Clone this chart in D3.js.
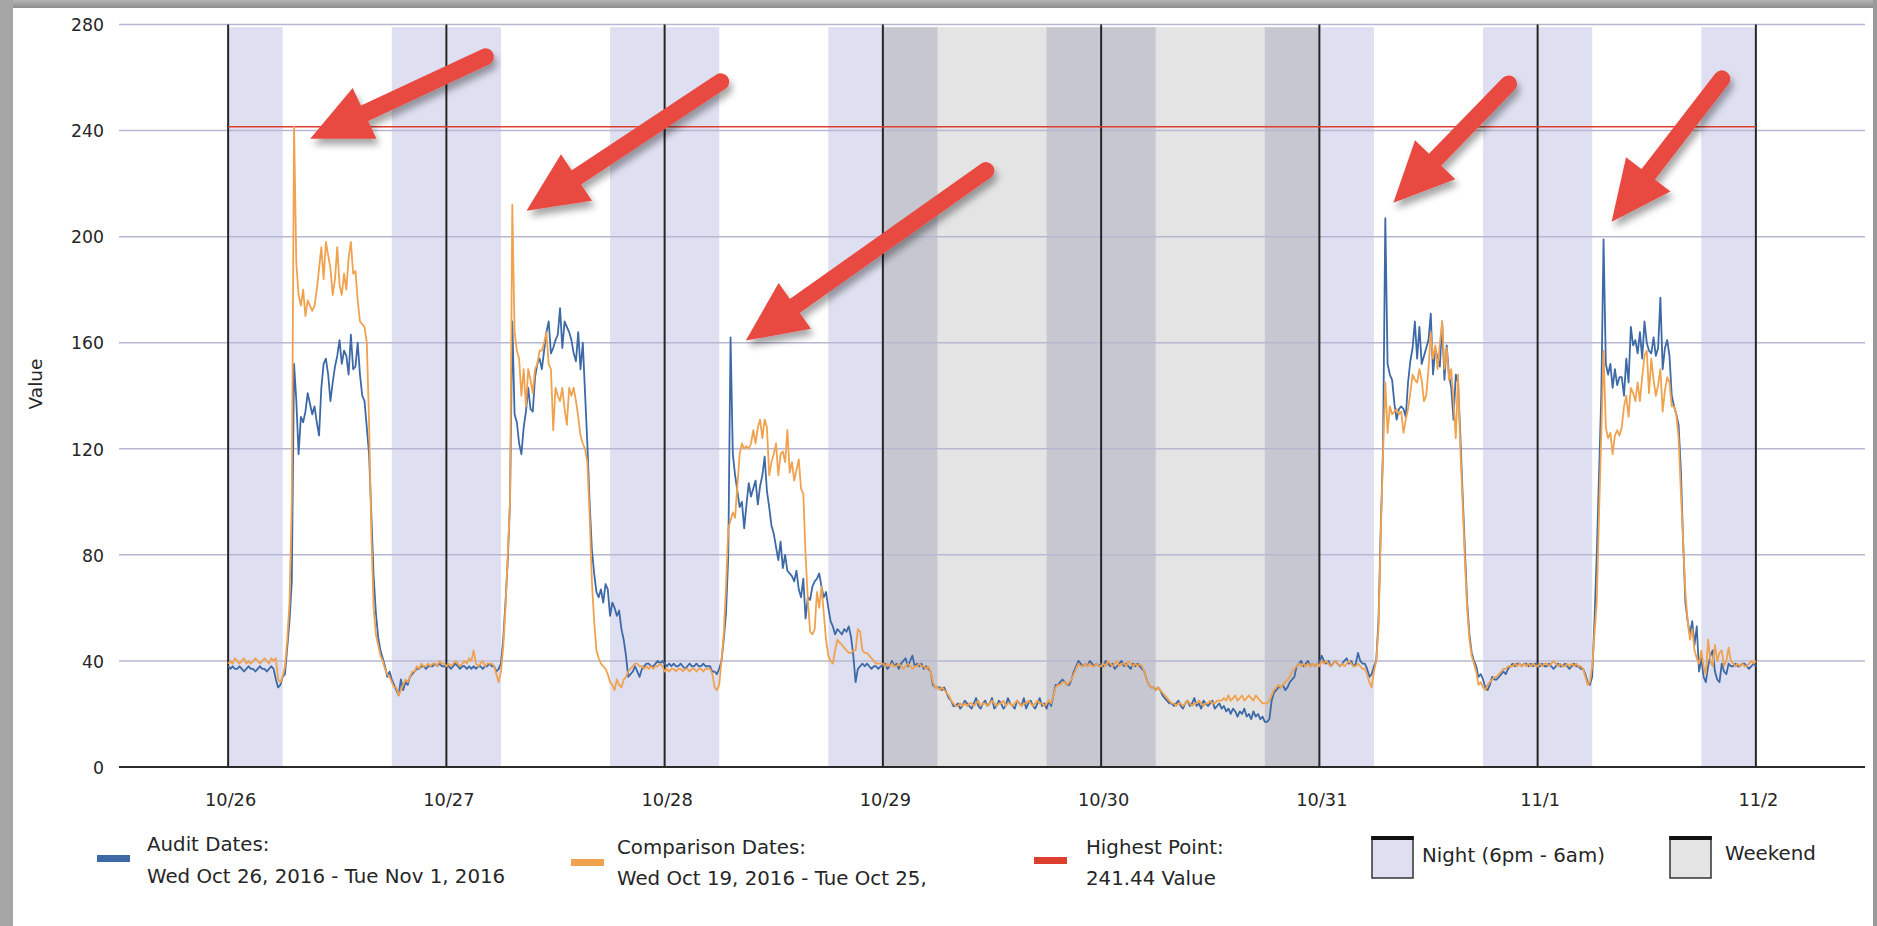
<!DOCTYPE html>
<html><head><meta charset="utf-8">
<script src="https://cdn.jsdelivr.net/npm/d3@7"></script>
<style>
body{margin:0;background:#fff}
svg{display:block}
text{font-family:"DejaVu Sans",sans-serif;fill:#262626}
</style>
</head><body>
<svg id="chart" width="1877" height="926"></svg>
<script>
// ---------------- DATA ----------------
const dayKeys   = ["2016-10-26","2016-10-27","2016-10-28","2016-10-29","2016-10-30","2016-10-31","2016-11-01"];
const xTickDays = ["2016-10-26","2016-10-27","2016-10-28","2016-10-29","2016-10-30","2016-10-31","2016-11-01","2016-11-02"];
const xTickLabels = ["10/26","10/27","10/28","10/29","10/30","10/31","11/1","11/2"];
const yTicks = [0,40,80,120,160,200,240,280];
const weekendDays = ["2016-10-29","2016-10-30"];
const highestPoint = 241.44;
const stepMinutes = 15;

// Audit series (15-minute readings, from 00:00 of each day)
const audit_1026 = [38,37,38,37,37,38,37,36,37,38,37,37,36,37,38,37,37,36,37,38,
 37,33,30,31,34,35,45,55,70,
 152,138,118,132,130,134,141,137,133,136,130,
 125,143,152,154,148,138,145,151,155,161,
 152,157,155,148,163,150,151,160,148,140,
 138,128,118,95,72,58,49,44,41,38,
 34,36,33,31,29,27,33,29,32,31,
 34,35,36,37,37,38,38,37,38,38,
 38,39,38,39,38,38];
const audit_1027 = [38,38,37,38,39,38,37,38,38,37,38,37,38,37,38,38,37,38,38,39,
 38,38,36,37,39,48,62,78,100,
 168,133,130,122,118,128,134,143,135,134,147,
 152,154,150,157,164,168,156,158,161,163,
 173,158,168,166,164,161,156,153,164,150,
 160,141,122,100,82,73,66,64,67,62,
 69,67,57,62,60,57,59,52,48,42,
 34,35,36,38,36,34,37,38,39,39,
 38,38,39,40,39,40];
const audit_1028 = [39,38,39,38,39,38,38,39,38,37,38,39,38,38,39,38,38,39,38,38,
 38,36,36,35,37,40,48,58,80,
 162,118,110,104,98,100,90,99,107,102,105,
 108,99,106,110,117,104,98,91,88,83,
 78,85,75,80,74,73,72,70,74,67,
 64,71,56,64,63,68,70,71,73,68,
 64,66,60,55,53,50,52,51,50,52,
 51,53,49,42,32,37,38,39,38,39,
 38,37,38,38,37,38];
const audit_1029 = [38,39,37,38,40,38,39,37,39,40,41,38,40,42,38,39,38,39,37,38,37,
 36,31,30,30,30,29,30,28,26,25,23,
 23,24,22,23,25,24,23,22,24,26,23,22,24,25,23,24,26,22,23,25,24,22,23,26,24,23,22,25,24,23,26,22,24,25,23,22,24,26,23,24,22,25,23,
 27,31,31,32,33,32,31,31,33,36,38,40,39,38,39,38,40,39,38,39,38];
const audit_1030 = [39,38,40,39,38,39,37,38,39,40,38,39,38,37,39,38,39,38,37,
 36,33,31,30,30,29,30,29,27,26,25,24,24,
 23,24,25,23,22,24,25,23,24,26,23,24,22,25,24,23,24,25,22,23,24,
 22,23,21,22,20,22,21,19,21,20,22,19,20,18,21,19,20,18,19,17,17,18,
 25,28,29,30,30,31,29,30,32,33,34,38,39,40,38,39,40,38,39,38,39];
const audit_1031 = [39,42,40,39,40,38,39,40,39,38,39,40,41,39,40,38,39,43,40,39,
 39,37,34,35,38,40,55,90,120,
 207,152,148,146,137,131,135,136,135,132,145,
 153,158,168,154,166,152,155,158,161,171,
 148,158,154,151,168,146,159,148,143,131,
 148,145,125,103,82,62,50,43,40,38,
 34,35,33,30,29,31,34,33,33,34,
 35,36,35,37,38,39,38,39,39,38,
 39,39,38,39,38,39];
// last value is 11/2 00:00
const audit_1101 = [39,38,39,38,38,39,38,37,38,39,38,38,39,38,37,38,39,38,38,37,
 37,35,32,31,34,55,80,110,140,
 199,152,148,152,143,150,144,147,147,140,154,
 145,166,159,161,156,164,154,168,160,157,
 156,162,155,158,177,150,158,161,155,140,
 136,133,129,112,85,62,55,50,55,46,
 53,36,41,34,32,38,42,44,36,33,
 32,39,36,35,39,38,38,39,38,38,
 39,39,38,37,38,39,38];

// Comparison series (15-minute readings, from 00:00 of each day)
const comp_1026 = [39,40,39,41,40,39,40,41,39,40,39,40,41,40,39,40,41,40,39,41,
 40,41,33,32,34,38,48,62,100,
 241.44,190,178,174,180,170,176,174,172,174,180,
 188,196,184,198,193,188,178,184,196,182,
 178,186,180,192,198,186,187,176,168,167,
 166,160,130,88,60,50,46,42,40,37,
 35,34,32,30,30,27,29,31,33,32,
 34,36,36,38,37,39,38,38,39,38,
 39,39,38,40,39,39];
const comp_1027 = [38,39,38,39,40,39,38,39,40,39,41,40,44,39,38,39,40,38,39,39,
 39,38,35,32,36,45,60,80,100,
 212,164,157,154,140,150,136,150,146,141,150,
 152,157,157,160,164,152,150,127,143,140,
 138,143,135,129,143,140,143,138,132,125,
 122,120,115,95,70,55,44,41,39,38,
 37,35,32,31,29,33,31,30,33,34,
 36,37,38,39,39,38,38,37,38,37,
 38,37,38,38,39,38];
const comp_1028 = [36,37,36,37,37,36,37,37,36,37,37,36,37,37,36,37,37,36,37,37,
 37,35,30,29,31,40,50,68,90,
 93,96,94,106,118,122,120,121,120,122,127,
 122,128,131,124,131,128,110,115,118,122,
 110,118,119,115,127,111,115,108,112,116,
 105,103,80,63,51,50,52,66,60,68,
 58,48,42,40,39,44,48,47,46,45,
 44,43,43,44,44,52,51,44,43,43,
 42,41,40,39,39,39];
const comp_1029 = [39,38,39,38,39,38,38,39,38,37,38,39,38,37,38,38,39,38,38,37,38,
 36,32,30,30,29,30,29,28,27,25,24,
 23,23,24,23,24,23,24,24,23,24,25,23,24,24,23,24,25,24,23,24,24,25,23,24,24,23,24,25,24,23,24,24,25,24,23,24,25,24,24,23,24,25,24,
 27,30,31,31,32,32,31,32,33,35,37,39,38,38,39,38,39,38,38,39,38];
const comp_1030 = [38,39,38,40,39,38,39,40,38,39,39,38,40,39,38,39,38,39,38,
 36,33,31,30,30,29,30,29,28,27,26,25,24,
 24,23,24,24,23,24,25,24,23,24,24,25,24,23,24,24,25,24,24,25,25,
 25,26,25,27,25,26,27,25,26,27,25,26,27,26,25,27,26,25,24,24,24,25,
 27,29,30,31,30,31,32,33,34,36,37,38,39,38,39,38,39,38,39,38,39];
const comp_1031 = [38,40,39,40,39,38,39,40,39,38,39,38,39,40,39,38,38,39,38,37,
 37,35,32,30,36,40,52,88,118,
 145,126,136,133,134,135,133,134,126,131,135,
 141,148,146,145,150,146,138,140,150,164,
 154,159,150,160,168,150,158,146,150,138,
 124,148,120,100,78,60,48,42,39,36,
 31,32,30,29,31,32,33,34,34,35,
 36,37,37,38,38,38,39,38,39,38,
 39,38,39,38,39,38];
// last value is 11/2 00:00
const comp_1101 = [38,39,38,39,39,38,39,40,39,38,39,38,38,39,38,39,38,39,38,38,
 37,34,31,32,38,50,62,95,125,
 157,128,124,126,118,125,127,125,128,136,140,
 132,143,141,138,145,138,147,155,157,141,
 154,146,140,144,150,134,142,147,145,136,
 136,133,124,104,85,66,55,48,52,44,
 41,39,44,38,35,48,40,38,46,40,
 43,44,38,40,45,40,39,38,39,38,
 39,38,38,39,40,39,40];

const auditDays = [audit_1026,audit_1027,audit_1028,audit_1029,audit_1030,audit_1031,audit_1101];
const compDays  = [comp_1026,comp_1027,comp_1028,comp_1029,comp_1030,comp_1031,comp_1101];

// Annotation arrows: [day offset from 10/26, value] for tip and tail
const arrowTips  = [[0.376,236.9],[1.367,209.8],[2.372,160.8],[5.339,212.8],[6.339,205.6]];
const arrowTails = [[1.179,267.8],[2.257,258.4],[3.472,224.9],[5.867,257.6],[6.844,259.5]];

// ---------------- CHART ----------------
const parse = s => new Date(s + "T00:00:00Z");
const DAY = 86400000;
const t0 = parse("2016-10-26");

function buildSeries(days){
  const out = [];
  days.forEach((arr,k)=>{
    const start = parse(dayKeys[k]).getTime();
    arr.forEach((v,i)=> out.push({t:new Date(start + i*stepMinutes*60000), v}));
  });
  return out;
}
const auditSeries = buildSeries(auditDays);
const compSeries  = buildSeries(compDays);

const svg = d3.select("#chart");
const X0 = 119, X1 = 1865, Y0 = 767, Y1 = 24.5;
const x = d3.scaleUtc().domain([new Date(t0.getTime()-DAY/2), new Date(parse("2016-11-02").getTime()+DAY/2)]).range([X0,X1]);
const y = d3.scaleLinear().domain([0,280]).range([Y0,Y1]);

const C = {night:"#dedff0", weekend:"#e4e4e4", weekendNight:"#c7c7d1", grid:"#b7b7d1",
  dayLine:"#262626", audit:"#3d69a6", comp:"#f0a24f", red:"#dd3f2f", arrow:"#e84a40"};

svg.append("rect").attr("x",0).attr("y",0).attr("width",1877).attr("height",926).attr("fill","#fff");

// bands
const bands = svg.append("g");
weekendDays.forEach(d=>{
  const s = parse(d);
  bands.append("rect").attr("x",x(s)).attr("width",x(new Date(s.getTime()+DAY))-x(s))
    .attr("y",y(279)).attr("height",y(0)-y(279)).attr("fill",C.weekend);
});
dayKeys.forEach(d=>{
  const s = parse(d).getTime();
  const wk = weekendDays.includes(d);
  [[0,0.25],[0.75,1]].forEach(([a,b])=>{
    bands.append("rect").attr("x",x(new Date(s+a*DAY))).attr("width",x(new Date(s+b*DAY))-x(new Date(s+a*DAY)))
      .attr("y",y(279)).attr("height",y(0)-y(279)).attr("fill",wk?C.weekendNight:C.night);
  });
});

// horizontal gridlines
svg.append("g").selectAll("line").data(yTicks.filter(v=>v>0)).join("line")
  .attr("x1",X0).attr("x2",X1).attr("y1",d=>y(d)).attr("y2",d=>y(d))
  .attr("stroke",C.grid).attr("stroke-width",1.5);

// y axis labels
const yAxis = d3.axisLeft(y).tickValues(yTicks).tickSize(0).tickPadding(0);
const ya = svg.append("g").attr("transform","translate(104,0)").call(yAxis);
ya.select(".domain").remove();
ya.selectAll("text").attr("font-family","DejaVu Sans").attr("font-size",17.3).attr("fill","#222").attr("dy","0.36em");

// day lines
svg.append("g").selectAll("line").data(xTickDays.map(parse)).join("line")
  .attr("x1",d=>x(d)).attr("x2",d=>x(d)).attr("y1",y(280)).attr("y2",Y0)
  .attr("stroke",C.dayLine).attr("stroke-width",2);

// highest point line
svg.append("line").attr("x1",x(t0)).attr("x2",x(parse("2016-11-02")))
  .attr("y1",y(highestPoint)).attr("y2",y(highestPoint)).attr("stroke",C.red).attr("stroke-width",1.6);

// series
const line = d3.line().x(d=>x(d.t)).y(d=>y(d.v));
svg.append("path").datum(auditSeries).attr("d",line).attr("fill","none").attr("stroke",C.audit).attr("stroke-width",1.8).attr("stroke-linejoin","round");
svg.append("path").datum(compSeries).attr("d",line).attr("fill","none").attr("stroke",C.comp).attr("stroke-width",1.8).attr("stroke-linejoin","round");

// x axis
const xAxis = d3.axisBottom(x).tickValues(xTickDays.map(parse)).tickFormat((d,i)=>xTickLabels[i]).tickSize(0).tickPadding(0);
const xa = svg.append("g").attr("transform",`translate(0,${Y0})`).call(xAxis);
xa.select(".domain").remove();
xa.selectAll("text").attr("font-family","DejaVu Sans").attr("font-size",17.8).attr("fill","#222").attr("dy","0").attr("y",39).attr("dx",2);
svg.append("line").attr("x1",X0).attr("x2",X1).attr("y1",Y0).attr("y2",Y0).attr("stroke","#2a2a2a").attr("stroke-width",2.2);

// y title
svg.append("text").attr("transform","translate(42,384) rotate(-90)").attr("text-anchor","middle")
  .attr("font-size",18.5).attr("fill","#222").text("Value");

// arrows
const defs = svg.append("defs");
const f = defs.append("filter").attr("id","sh").attr("x","-30%").attr("y","-30%").attr("width","160%").attr("height","160%");
f.append("feDropShadow").attr("dx",3).attr("dy",6).attr("stdDeviation",3.5).attr("flood-color","#000").attr("flood-opacity",0.35);
const ag = svg.append("g").attr("filter","url(#sh)");
arrowTips.forEach((tp,k)=>{
  const tl = arrowTails[k];
  const tx = x(new Date(t0.getTime()+tp[0]*DAY)), ty = y(tp[1]);
  const sx = x(new Date(t0.getTime()+tl[0]*DAY)), sy = y(tl[1]);
  const dx = tx-sx, dy = ty-sy, L = Math.hypot(dx,dy), ux = dx/L, uy = dy/L, px = -uy, py = ux;
  const HL = 60, HW = 28, SW = 17;
  const bx = tx - ux*HL, by = ty - uy*HL;
  ag.append("line").attr("x1",sx).attr("y1",sy).attr("x2",bx+ux*4).attr("y2",by+uy*4)
    .attr("stroke",C.arrow).attr("stroke-width",SW).attr("stroke-linecap","round");
  ag.append("path").attr("d",`M${tx},${ty}L${bx+px*HW},${by+py*HW}L${bx-px*HW},${by-py*HW}Z`).attr("fill",C.arrow);
});

// legend
const lg = svg.append("g").attr("font-size",19.8);
const lineItems = [
  {c:C.audit, sx:97, sy:855, tx:147, l1:"Audit Dates:", l2:"Wed Oct 26, 2016 - Tue Nov 1, 2016", y1:844, y2:876},
  {c:C.comp,  sx:571, sy:859, tx:617, l1:"Comparison Dates:", l2:"Wed Oct 19, 2016 - Tue Oct 25,", y1:847, y2:878},
  {c:C.red,   sx:1034, sy:857, tx:1086, l1:"Highest Point:", l2:"241.44 Value", y1:847, y2:878}
];
lineItems.forEach(it=>{
  lg.append("rect").attr("x",it.sx).attr("y",it.sy).attr("width",33).attr("height",7).attr("fill",it.c);
  lg.append("text").attr("x",it.tx).attr("y",it.y1).attr("dy","0.36em").attr("fill","#222").text(it.l1);
  lg.append("text").attr("x",it.tx).attr("y",it.y2).attr("dy","0.36em").attr("fill","#222").text(it.l2);
});
const boxItems = [
  {c:C.night, bx:1372, tx:1422, l:"Night (6pm - 6am)", ty:855},
  {c:C.weekend, bx:1670, tx:1725, l:"Weekend", ty:853}
];
boxItems.forEach(it=>{
  lg.append("rect").attr("x",it.bx).attr("y",837).attr("width",41).attr("height",41).attr("fill",it.c).attr("stroke","#333").attr("stroke-width",1.5);
  lg.append("rect").attr("x",it.bx-0.75).attr("y",836).attr("width",42.5).attr("height",4).attr("fill","#111");
  lg.append("text").attr("x",it.tx).attr("y",it.ty).attr("dy","0.36em").attr("fill","#222").text(it.l);
});

// screenshot frame border
const g = defs.append("linearGradient").attr("id","topg").attr("x1",0).attr("y1",0).attr("x2",0).attr("y2",1);
g.append("stop").attr("offset","0%").attr("stop-color","#b4b4b4");
g.append("stop").attr("offset","100%").attr("stop-color","#8e8e8e");
svg.append("rect").attr("x",0).attr("y",0).attr("width",1877).attr("height",8).attr("fill","url(#topg)");
svg.append("rect").attr("x",0).attr("y",0).attr("width",13).attr("height",926).attr("fill","#a6a6a6");
svg.append("rect").attr("x",1873).attr("y",0).attr("width",4).attr("height",926).attr("fill","#9a9a9a");
</script>
</body></html>
